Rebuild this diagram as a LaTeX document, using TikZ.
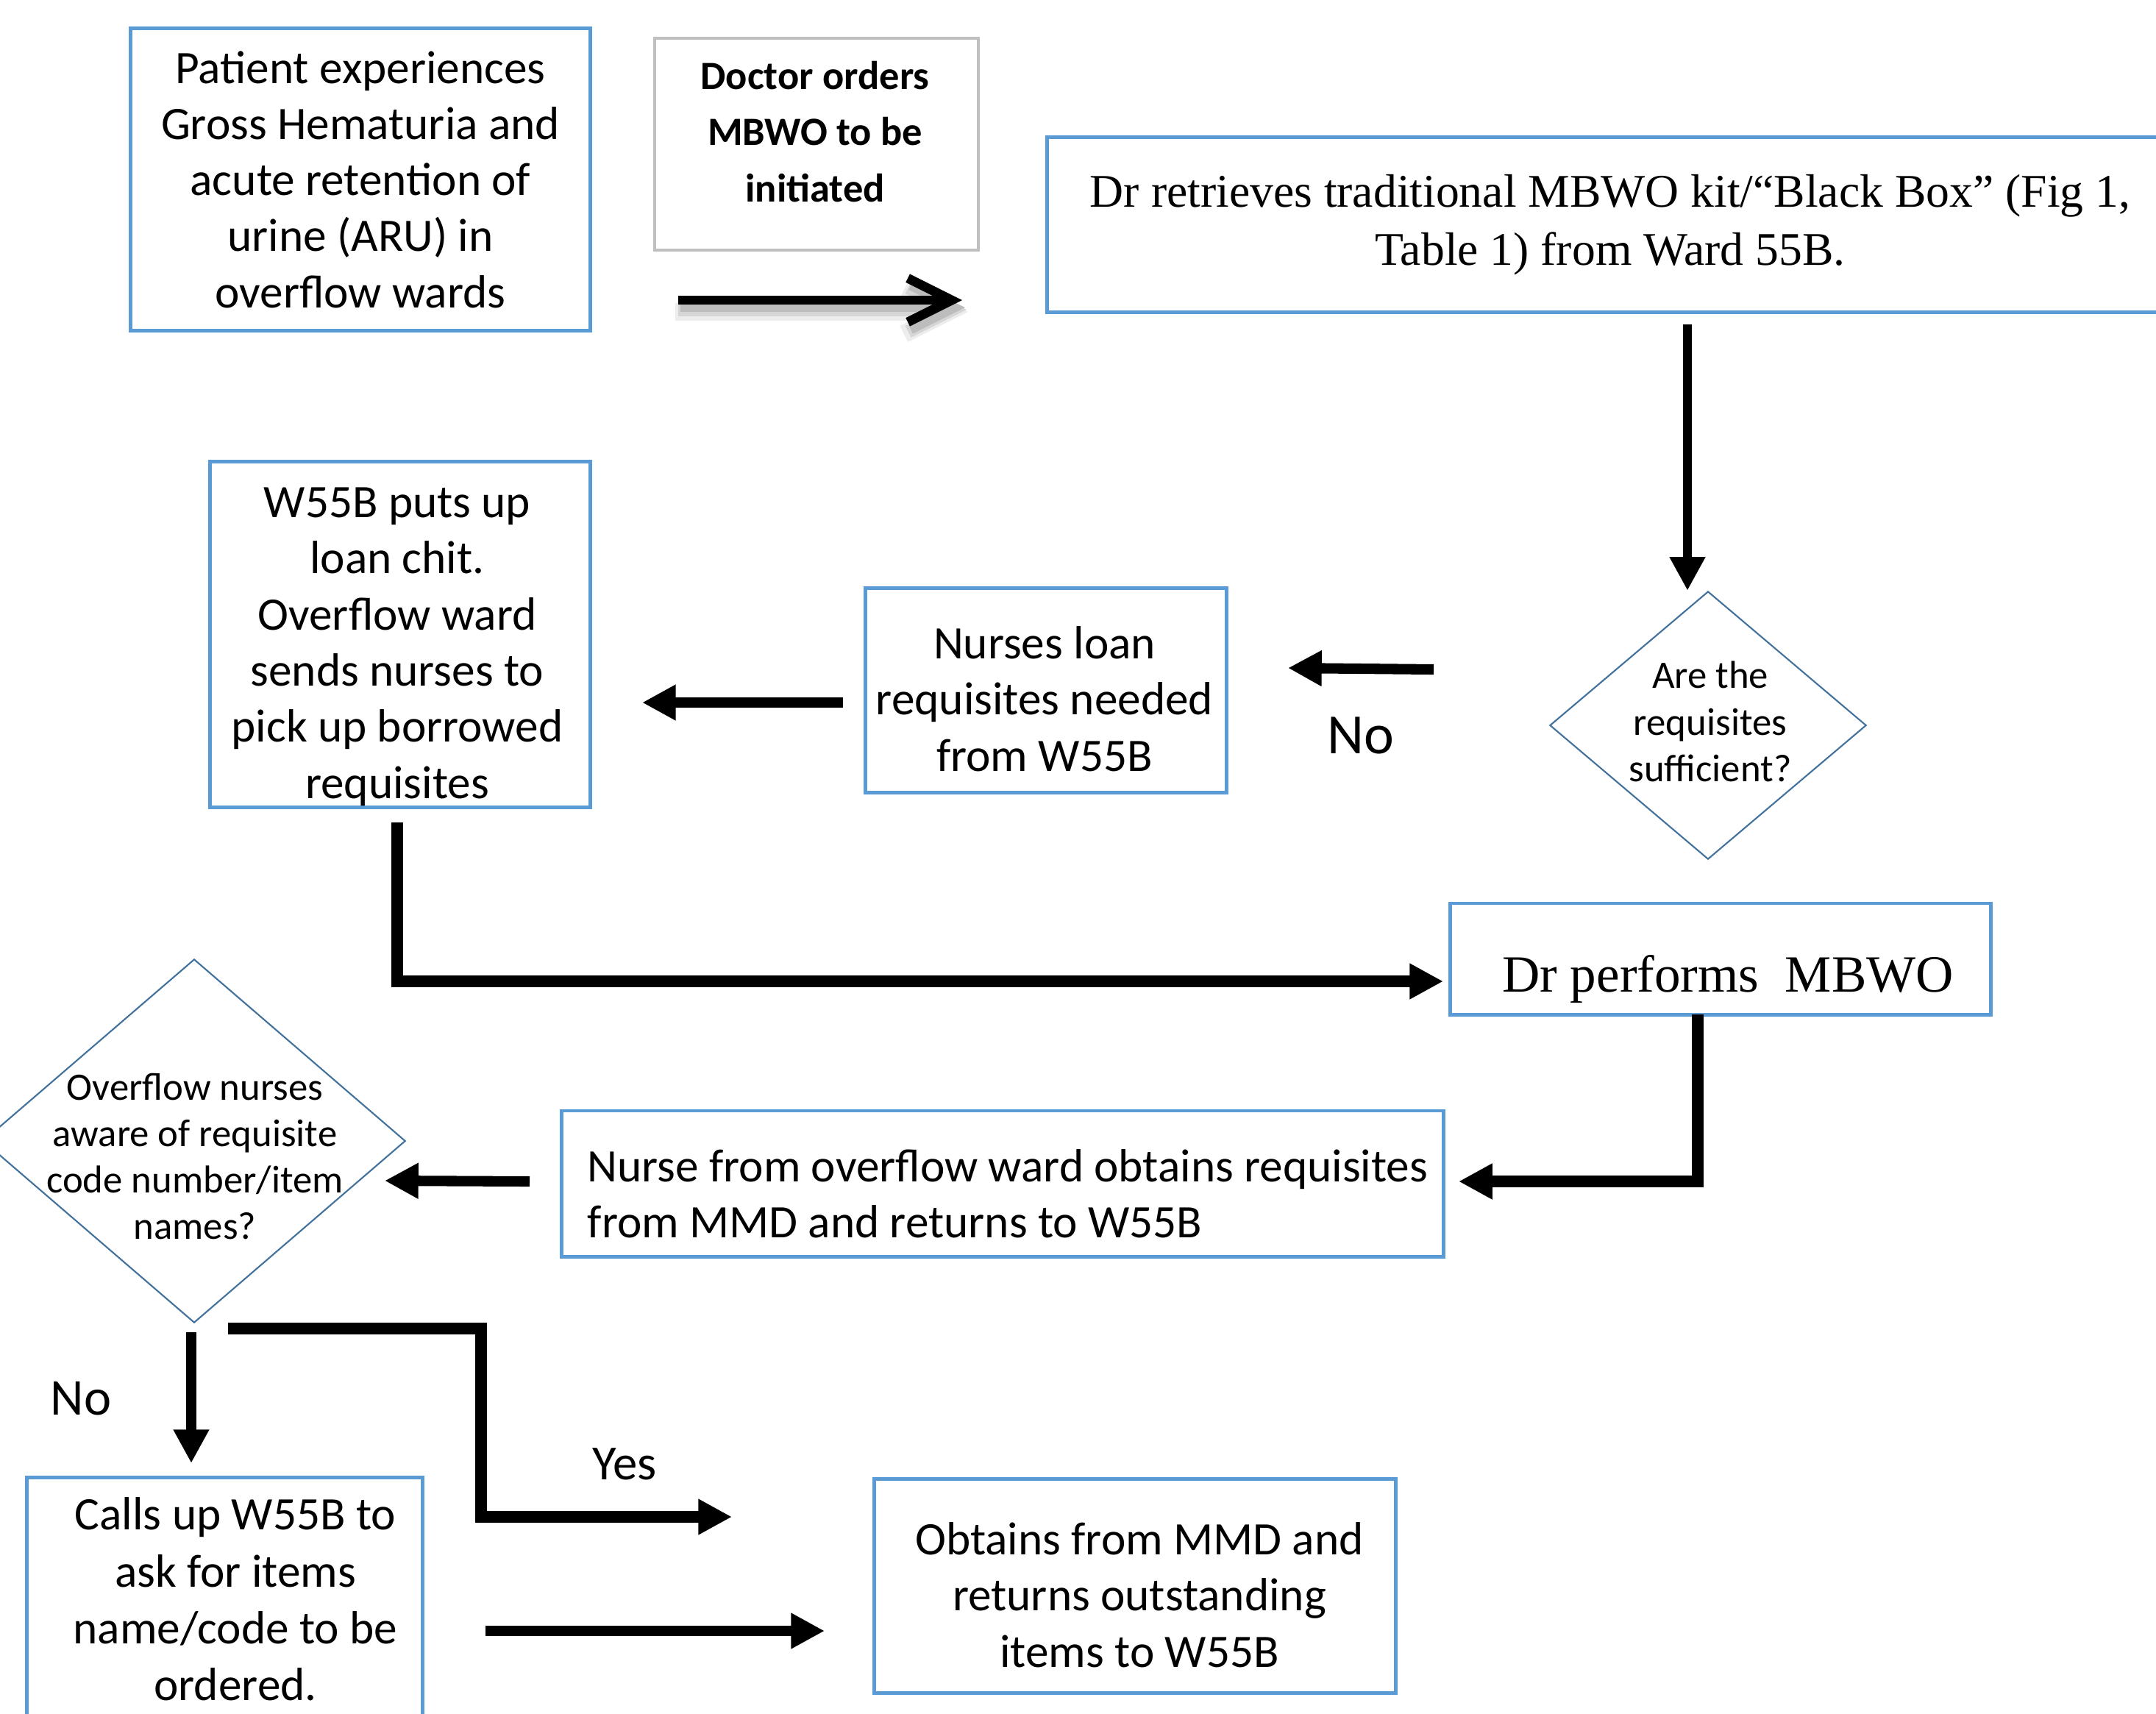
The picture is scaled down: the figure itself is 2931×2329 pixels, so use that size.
\documentclass[tikz,border=0pt]{standalone}
\usepackage{fontspec}
\setmainfont{Carlito}
\newfontfamily\trfont{Liberation Serif}
\usetikzlibrary{arrows.meta,shapes.geometric}
\definecolor{boxblue}{HTML}{5B9BD5}
\definecolor{diablue}{HTML}{41719C}
\definecolor{boxgray}{HTML}{BFBFBF}
\tikzset{
  box/.style={draw=boxblue, line width=1.4pt, inner sep=0pt, align=center,
    font=\fontsize{18pt}{21.7pt}\selectfont},
  graybox/.style={draw=boxgray, line width=1.2pt, inner sep=0pt},
  dia/.style={diamond, draw=diablue, line width=0.6pt, inner sep=0pt},
  diatext/.style={align=center, inner sep=0pt, font=\fontsize{15pt}{18pt}\selectfont},
  txt/.style={align=center, inner sep=0pt, font=\fontsize{18pt}{21.7pt}\selectfont},
  conn/.style={line width=4pt, -{Triangle[length=13pt,width=13pt]}},
  thinconn/.style={line width=3.4pt, -{Triangle[length=13pt,width=13pt]}},
  barb/.style={-{Straight Barb[length=17pt,width=17pt]}},
}
\begin{document}
\begin{tikzpicture}[x=0.01cm,y=-0.01cm]
\useasboundingbox (0,0) rectangle (2931,2329);
% boxes
\node[box, minimum width=6.24cm, minimum height=4.10cm] (b1) at (490,244)
  {Patient experiences\\Gross Hematuria and\\acute retention of\\urine (ARU) in\\overflow wards};
\node[graybox, minimum width=4.39cm, minimum height=2.88cm] (b2) at (1110,196) {};
\node[txt, font=\fontsize{15.5pt}{21.7pt}\selectfont\bfseries] (b2t) at (1108,179)
  {Doctor orders\\MBWO to be\\initiated};
\node[box, minimum width=15.31cm, minimum height=2.37cm, font=\trfont\fontsize{18.1pt}{22.3pt}\selectfont] (b3) at (2189,305.5)
  {Dr retrieves traditional MBWO kit/“Black Box” (Fig 1,\\Table 1) from Ward 55B.};
\node[dia, minimum width=4.30cm, minimum height=3.64cm] (d1) at (2322,986) {};
\node[diatext] (d1t) at (2325,981) {Are the\\requisites\\sufficient?};
\node[box, minimum width=4.90cm, minimum height=2.77cm] (b4) at (1422,938.5) {};
\node[txt] (b4t) at (1420,950) {Nurses loan\\requisites needed\\from W55B};
\node[box, minimum width=5.16cm, minimum height=4.69cm] (b5) at (544,862.5) {};
\node[txt] (b5t) at (540,879)
  {W55B puts up\\loan chit.\\Overflow ward\\sends nurses to\\pick up borrowed\\requisites};
\node[box, minimum width=7.34cm, minimum height=1.51cm] (b6) at (2339,1303.5) {};
\node[txt, font=\trfont\fontsize{20.2pt}{24pt}\selectfont] (b6t) at (2349,1331) {Dr performs\hspace{0.25em} MBWO};
\node[box, minimum width=11.98cm, minimum height=1.98cm] (b7) at (1363,1609) {};
\node[txt, align=left, anchor=west] (b7t) at (798,1623)
  {Nurse from overflow ward obtains requisites\\from MMD and returns to W55B};
\node[dia, minimum width=5.74cm, minimum height=4.94cm] (d2) at (264,1551) {};
\node[diatext] (d2t) at (265,1572) {Overflow nurses\\aware of requisite\\code number/item\\names?};
\node[box, minimum width=5.37cm, minimum height=3.42cm] (b8) at (305.5,2180) {};
\node[txt, font=\fontsize{18pt}{22pt}\selectfont] (b8t) at (320,2174)
  {Calls up W55B to\\ask for items\\name/code to be\\ordered.};
\node[box, minimum width=7.08cm, minimum height=2.90cm] (b9) at (1543,2156) {};
\node[txt] (b9t) at (1549,2168) {Obtains from MMD and\\returns outstanding\\items to W55B};
% labels
\node[inner sep=0pt, font=\fontsize{22pt}{26pt}\selectfont] (no1) at (1850,1000) {No};
\node[inner sep=0pt, font=\fontsize{20pt}{24pt}\selectfont] (no2) at (110,1901) {No};
\node[inner sep=0pt, font=\fontsize{19pt}{23pt}\selectfont] (yes) at (849,1990) {Yes};
% connector end points
\coordinate (a1s) at (922,408);  \coordinate (a1e) at (1308,408);
\coordinate (a2s) at (2294,441);
\coordinate (a3s) at (1949,910); \coordinate (a3e) at (1751,908);
\coordinate (a4s) at (1146,955); \coordinate (a4e) at (873,955);
\coordinate (a5s) at (540,1118); \coordinate (a5e) at (1962,1334);
\coordinate (a6s) at (2308,1379); \coordinate (a6e) at (1983,1606);
\coordinate (a7s) at (720,1606); \coordinate (a7e) at (523,1605);
\coordinate (a8s) at (260,1811); \coordinate (a8e) at (260,1989);
\coordinate (a9s) at (310,1806); \coordinate (a9e) at (995,2062);
\coordinate (a10s) at (660,2217); \coordinate (a10e) at (1121,2217);
% blurred shadow of the first arrow
\draw[barb, line width=7pt, black!7] ([shift={(-4,16)}]a1s) -- ([shift={(8,16)}]a1e);
\draw[barb, line width=5pt, black!16] ([shift={(0,13)}]a1s) -- ([shift={(6,13)}]a1e);
\draw[barb, line width=3.6pt, black!26] ([shift={(3,10)}]a1s) -- ([shift={(4,10)}]a1e);
\draw[barb, line width=3.6pt] (a1s) -- (a1e);
% connectors
\draw[thinconn] (a2s) -- (a2s |- d1.north);
\draw[conn] (a3s) -- (a3e);
\draw[conn] (a4s) -- (a4e);
\draw[conn, line width=4.3pt] (a5s) |- (a5e);
\draw[conn, line width=4.3pt] (a6s) |- (a6e);
\draw[conn] (a7s) -- (a7e);
\draw[conn] (a8s) -- (a8e);
\draw[conn, line width=4.3pt] (a9s) -| (654,2062) -- (a9e);
\draw[conn] (a10s) -- (a10e);
\end{tikzpicture}
\end{document}
